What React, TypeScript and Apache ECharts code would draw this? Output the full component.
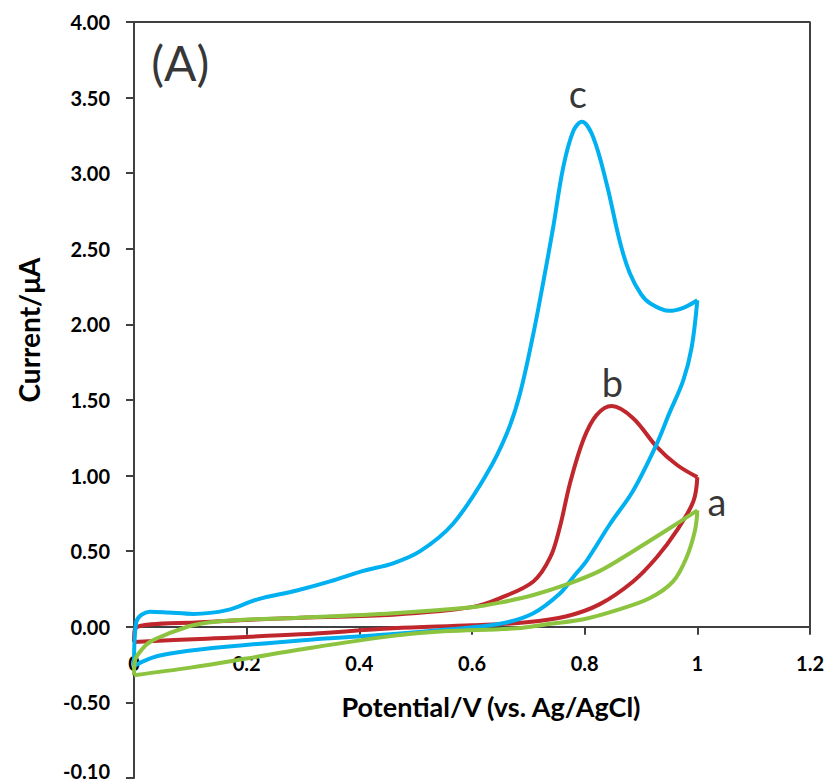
import React, { useEffect, useRef } from "react";
import * as echarts from "echarts";

// Axis ticks and labels
const xTicks = [0, 0.2, 0.4, 0.6, 0.8, 1, 1.2];
const xTickLabels = ["0", "0.2", "0.4", "0.6", "0.8", "1", "1.2"];
const yTicks = [-1, -0.5, 0, 0.5, 1, 1.5, 2, 2.5, 3, 3.5, 4];
const yTickLabels = ["-0.10", "-0.50", "0.00", "0.50", "1.00", "1.50", "2.00", "2.50", "3.00", "3.50", "4.00"];
const X_MIN = 0, X_MAX = 1.2, Y_MIN = -1, Y_MAX = 4;

// Curve c (blue): forward (anodic) and reverse scans [potential V, current µA]
const cForward: [number, number][] = [
  [0, -0.26], [0.004, 0.03], [0.028, 0.1], [0.06, 0.095], [0.105, 0.085], [0.165, 0.11],
  [0.218, 0.18], [0.289, 0.24], [0.348, 0.3], [0.407, 0.37], [0.46, 0.42], [0.508, 0.5],
  [0.566, 0.68], [0.626, 1.01], [0.662, 1.28], [0.685, 1.54], [0.709, 1.94], [0.726, 2.27],
  [0.744, 2.64], [0.762, 3.04], [0.78, 3.28], [0.795, 3.34], [0.815, 3.24], [0.839, 2.93],
  [0.863, 2.54], [0.88, 2.34], [0.9, 2.2], [0.916, 2.14], [0.95, 2.09], [0.975, 2.11], [1.0, 2.16],
];
const cReverse: [number, number][] = [
  [1.0, 2.16], [0.99, 1.85], [0.975, 1.63], [0.95, 1.41], [0.928, 1.21], [0.886, 0.9],
  [0.845, 0.68], [0.804, 0.44], [0.78, 0.33], [0.756, 0.22], [0.709, 0.09], [0.65, 0.02],
  [0.55, -0.02], [0.455, -0.05], [0.295, -0.09], [0.117, -0.15], [0.046, -0.19], [0.015, -0.23], [0, -0.26],
];

// Curve b (red)
const bForward: [number, number][] = [
  [0, -0.1], [0.002, -0.01], [0.117, 0.03], [0.295, 0.06], [0.46, 0.08], [0.6, 0.13],
  [0.65, 0.19], [0.709, 0.3], [0.739, 0.46], [0.756, 0.66], [0.774, 0.95], [0.798, 1.24],
  [0.821, 1.4], [0.848, 1.46], [0.886, 1.38], [0.928, 1.19], [0.964, 1.07], [1.0, 0.99],
];
const bReverse: [number, number][] = [
  [1.0, 0.99], [0.993, 0.83], [0.964, 0.64], [0.928, 0.46], [0.886, 0.3], [0.827, 0.15],
  [0.768, 0.07], [0.697, 0.03], [0.6, 0.01], [0.46, -0.01], [0.295, -0.05], [0.117, -0.08], [0, -0.1],
];

// Curve a (green)
const aForward: [number, number][] = [
  [0, -0.32], [0.002, -0.22], [0.014, -0.15], [0.028, -0.1], [0.058, -0.05], [0.105, 0.01],
  [0.165, 0.04], [0.295, 0.06], [0.46, 0.09], [0.6, 0.13], [0.65, 0.16], [0.709, 0.21],
  [0.768, 0.28], [0.827, 0.37], [0.886, 0.5], [0.946, 0.64], [1.0, 0.77],
];
const aReverse: [number, number][] = [
  [1.0, 0.77], [0.996, 0.64], [0.981, 0.46], [0.957, 0.3], [0.916, 0.19], [0.857, 0.11],
  [0.798, 0.05], [0.739, 0.02], [0.68, -0.01], [0.55, -0.03], [0.46, -0.06], [0.295, -0.15],
  [0.2, -0.21], [0.1, -0.27], [0, -0.32],
];

// Annotations [potential, current, text]
const annotations: [number, number, string][] = [
  [0.082, 3.73, "(A)"],
  [0.788, 3.53, "c"],
  [0.849, 1.62, "b"],
  [1.035, 0.83, "a"],
];

// Plot frame (top and right border)
const frame: [number, number][] = [[0, 4], [1.2, 4], [1.2, 0]];

const BLUE = "#00B0F0";
const RED = "#C0272D";
const GREEN = "#8CC43F";
const AXIS = "#404040";
const FONT = "Lato, 'Open Sans', sans-serif";

const W = 833, H = 784;
const GRID = { left: 134, right: 23, top: 22, bottom: 6 };

function curve(name: string, data: [number, number][], color: string) {
  return {
    name,
    type: "line",
    data,
    smooth: 0.35,
    symbol: "none",
    lineStyle: { color, width: 4 },
    z: 3,
    silent: true,
  };
}

export default function App() {
  const ref = useRef<HTMLDivElement>(null);
  useEffect(() => {
    if (!ref.current) return;
    const chart = echarts.init(ref.current, undefined, { renderer: "svg" });
    const gridH = H - GRID.top - GRID.bottom;
    // move the x axis up so it crosses the y axis at current = 0
    const xAxisOffset = -gridH * (0 - Y_MIN) / (Y_MAX - Y_MIN);
    const tickFont = { fontFamily: FONT, fontWeight: "bold", fontSize: 20, color: "#000" };
    const option: any = {
      animation: false,
      backgroundColor: "#ffffff",
      grid: { ...GRID, containLabel: false, outerBoundsMode: "none" },
      xAxis: {
        type: "value",
        min: X_MIN,
        max: X_MAX,
        interval: 0.2,
        position: "bottom",
        offset: xAxisOffset,
        axisLine: { show: true, onZero: false, lineStyle: { color: AXIS, width: 2 } },
        axisTick: { show: true, inside: false, length: 8, lineStyle: { color: AXIS, width: 2 } },
        axisLabel: {
          margin: 26,
          ...tickFont,
          formatter: (v: number) => {
            const i = xTicks.findIndex((t) => Math.abs(t - v) < 1e-6);
            return i >= 0 ? xTickLabels[i] : "";
          },
        },
        splitLine: { show: false },
      },
      yAxis: {
        type: "value",
        min: Y_MIN,
        max: Y_MAX,
        interval: 0.5,
        axisLine: { show: true, onZero: false, lineStyle: { color: AXIS, width: 2 } },
        axisTick: { show: true, inside: false, length: 8, lineStyle: { color: AXIS, width: 2 } },
        axisLabel: {
          margin: 24,
          ...tickFont,
          formatter: (v: number) => {
            const i = yTicks.findIndex((t) => Math.abs(t - v) < 1e-6);
            if (i < 0) return "";
            return i === 0 ? "{low|" + yTickLabels[i] + "}" : yTickLabels[i];
          },
          rich: {
            low: { ...tickFont, padding: [0, 0, 14, 0] },
          },
        },
        splitLine: { show: false },
      },
      graphic: [
        {
          type: "text",
          x: 491,
          y: 706,
          style: {
            text: "Potential/V (vs. Ag/AgCl)",
            fontFamily: FONT,
            fontWeight: "bold",
            fontSize: 27,
            fill: "#000",
            textAlign: "center",
            textVerticalAlign: "middle",
          },
        },
        {
          type: "text",
          x: 29,
          y: 330,
          rotation: Math.PI / 2,
          style: {
            text: "Current/μA",
            fontFamily: FONT,
            fontWeight: "bold",
            fontSize: 28,
            fill: "#000",
            textAlign: "center",
            textVerticalAlign: "middle",
          },
        },
      ],
      series: [
        {
          type: "line",
          data: frame,
          symbol: "none",
          lineStyle: { color: AXIS, width: 2 },
          z: 1,
          silent: true,
        },
        curve("b-forward", bForward, RED),
        curve("b-reverse", bReverse, RED),
        curve("c-forward", cForward, BLUE),
        curve("c-reverse", cReverse, BLUE),
        curve("a-forward", aForward, GREEN),
        curve("a-reverse", aReverse, GREEN),
        {
          type: "scatter",
          data: annotations.map((a, i) => ({
            value: [a[0], a[1]],
            name: a[2],
            label: i === 0 ? { fontSize: 48 } : undefined,
          })),
          symbolSize: 1,
          itemStyle: { color: "transparent" },
          silent: true,
          z: 5,
          label: {
            show: true,
            position: "inside",
            formatter: (p: any) => p.name,
            fontFamily: FONT,
            fontSize: 38,
            color: "#000",
          },
        },
      ],
    };
    chart.setOption(option);
    return () => chart.dispose();
  }, []);
  return (
    <div
      ref={ref}
      style={{ position: "fixed", left: 0, top: 0, width: W, height: H, background: "#fff" }}
    />
  );
}
